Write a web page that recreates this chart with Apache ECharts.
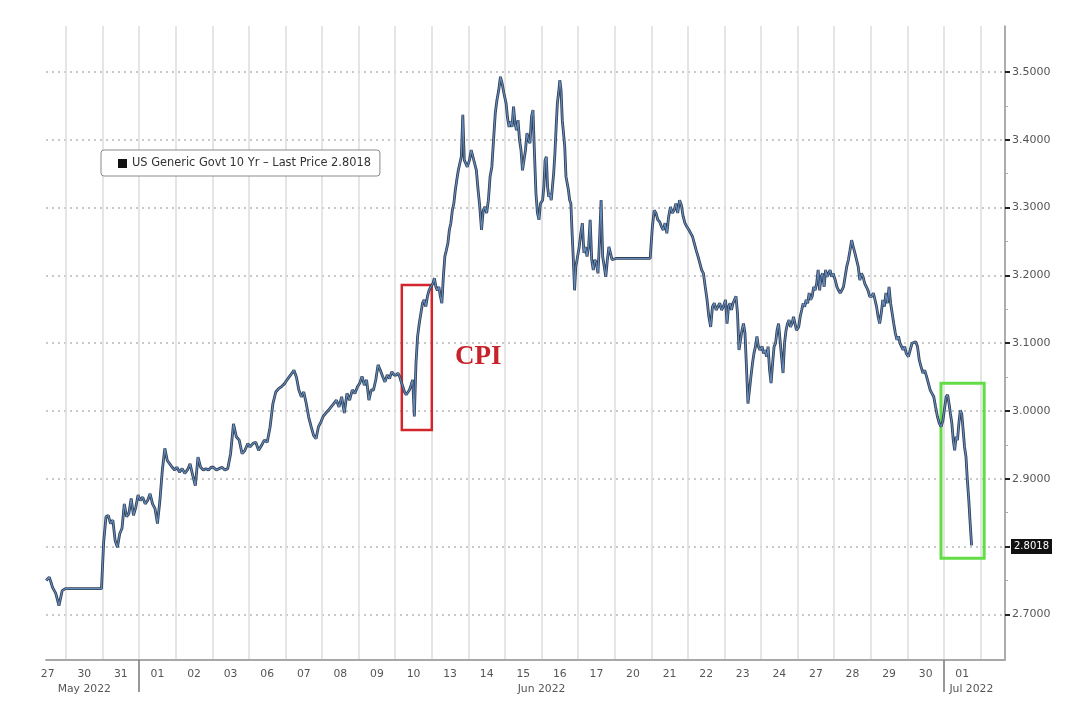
<!DOCTYPE html>
<html><head><meta charset="utf-8">
<script src="https://cdn.jsdelivr.net/npm/echarts@6/dist/echarts.min.js"></script>
<style>html,body{margin:0;padding:0;background:#fff}#c{width:1080px;height:715px}</style>
</head><body><div id="c"></div>
<script>
// ---------------- DATA ----------------
const seriesName = 'US Generic Govt 10 Yr \u2013 Last Price 2.8018';
const lastPrice = 2.8018;
const dayLabels = ['27','30','31','01','02','03','06','07','08','09','10','13','14','15','16','17','20','21','22','23','24','27','28','29','30','01'];
const monthLabels = ['May 2022','Jun 2022','Jul 2022'];

const may27 = [2.750, 2.755, 2.740, 2.731, 2.713, 2.735, 2.738];
const may30 = [2.738, 2.738];
const may31 = [2.807, 2.844, 2.846, 2.834, 2.839, 2.809, 2.799, 2.819, 2.827, 2.863, 2.844, 2.849, 2.871, 2.846, 2.858, 2.876];
const jun01 = [2.868, 2.873, 2.863, 2.868, 2.878, 2.863, 2.856, 2.834, 2.868, 2.913, 2.945, 2.927, 2.922, 2.917, 2.913];
const jun02 = [2.917, 2.910, 2.915, 2.908, 2.913, 2.922, 2.905, 2.890, 2.932, 2.917, 2.913, 2.915, 2.913, 2.917];
const jun03 = [2.917, 2.913, 2.915, 2.917, 2.913, 2.915, 2.937, 2.981, 2.962, 2.957, 2.937, 2.942, 2.952];
const jun06 = [2.947, 2.952, 2.954, 2.942, 2.949, 2.957, 2.954, 2.976, 3.011, 3.028, 3.033, 3.036, 3.040];
const jun07 = [3.045, 3.050, 3.055, 3.060, 3.050, 3.031, 3.021, 3.028, 3.011, 2.991, 2.977, 2.964, 2.959, 2.977, 2.984];
const jun08 = [2.992, 2.997, 3.001, 3.006, 3.011, 3.016, 3.006, 3.021, 2.997, 3.026, 3.016, 3.031, 3.026, 3.036];
const jun09 = [3.041, 3.051, 3.038, 3.046, 3.016, 3.031, 3.031, 3.046, 3.068, 3.060, 3.051, 3.043, 3.053, 3.048, 3.058, 3.053];
const jun10 = [3.053, 3.056, 3.051, 3.043, 3.036, 3.028, 3.024, 3.026, 3.031, 3.038, 3.046, 2.992, 3.070, 3.110, 3.129, 3.144, 3.159, 3.164, 3.154, 3.169, 3.178, 3.183];
const jun13 = [3.188, 3.196, 3.183, 3.178, 3.183, 3.169, 3.159, 3.198, 3.228, 3.237, 3.247, 3.267, 3.277, 3.296, 3.306, 3.326, 3.341, 3.355, 3.365, 3.375, 3.437, 3.370, 3.365, 3.360];
const jun14 = [3.370, 3.385, 3.375, 3.365, 3.355, 3.326, 3.301, 3.267, 3.296, 3.301, 3.292, 3.311, 3.346, 3.360, 3.400, 3.439, 3.459, 3.473, 3.493, 3.483, 3.469];
const jun15 = [3.454, 3.432, 3.419, 3.427, 3.419, 3.449, 3.424, 3.414, 3.429, 3.400, 3.385, 3.355, 3.370, 3.385, 3.410, 3.400, 3.395, 3.434, 3.444, 3.380, 3.321, 3.292, 3.282, 3.306];
const jun16 = [3.311, 3.331, 3.370, 3.375, 3.331, 3.316, 3.321, 3.311, 3.331, 3.351, 3.380, 3.419, 3.454, 3.469, 3.488, 3.473, 3.429, 3.410, 3.390, 3.346, 3.336, 3.326, 3.311, 3.306, 3.262, 3.223, 3.178, 3.213, 3.223];
const jun17 = [3.242, 3.262, 3.277, 3.233, 3.242, 3.228, 3.242, 3.282, 3.223, 3.208, 3.223, 3.218, 3.203, 3.252, 3.311, 3.228, 3.213, 3.198, 3.223, 3.242, 3.233, 3.223, 3.225];
const jun20 = [3.225, 3.225];
const jun21 = [3.272, 3.296, 3.292, 3.282, 3.279, 3.272, 3.267, 3.277, 3.262, 3.287, 3.301, 3.292, 3.296, 3.306, 3.292, 3.311, 3.304, 3.287, 3.277, 3.272];
const jun22 = [3.267, 3.262, 3.257, 3.247, 3.237, 3.228, 3.218, 3.208, 3.203, 3.183, 3.164, 3.139, 3.124, 3.154, 3.159, 3.149, 3.154, 3.159, 3.149, 3.154];
const jun23 = [3.164, 3.129, 3.154, 3.159, 3.149, 3.159, 3.164, 3.169, 3.144, 3.090, 3.090, 3.119, 3.129, 3.115, 3.065, 3.011, 3.031, 3.051, 3.070, 3.085, 3.095, 3.110, 3.095, 3.090];
const jun24 = [3.095, 3.085, 3.090, 3.080, 3.095, 3.060, 3.041, 3.070, 3.095, 3.100, 3.119, 3.129, 3.105, 3.080, 3.056, 3.100, 3.119, 3.129, 3.134, 3.124, 3.129, 3.139, 3.129, 3.119];
const jun27 = [3.124, 3.139, 3.149, 3.159, 3.154, 3.164, 3.159, 3.174, 3.164, 3.169, 3.183, 3.178, 3.188, 3.208, 3.178, 3.198, 3.203, 3.183, 3.208, 3.198, 3.203, 3.208, 3.198, 3.203];
const jun28 = [3.193, 3.183, 3.178, 3.174, 3.178, 3.183, 3.198, 3.213, 3.223, 3.237, 3.252, 3.242, 3.233, 3.223, 3.213, 3.193, 3.203, 3.198, 3.188, 3.183, 3.178, 3.169];
const jun29 = [3.169, 3.174, 3.164, 3.154, 3.139, 3.129, 3.144, 3.164, 3.154, 3.174, 3.159, 3.183, 3.159, 3.144, 3.129, 3.115, 3.105, 3.110, 3.100, 3.095, 3.090, 3.095, 3.085];
const jun30 = [3.080, 3.090, 3.100, 3.102, 3.102, 3.095, 3.075, 3.065, 3.056, 3.060, 3.051, 3.041, 3.031, 3.026, 3.021, 3.006, 2.992, 2.982, 2.977, 2.985];
const jul01 = [3.006, 3.021, 3.024, 3.011, 2.996, 2.982, 2.957, 2.942, 2.962, 2.957, 2.982, 3.001, 2.996, 2.972, 2.947, 2.933, 2.898, 2.869, 2.834, 2.8018];

// annotation boxes, in data units (day index, yield)
const cpiBox = [[10.18, 3.186], [11.0, 2.972]];
const julBox = [[24.92, 3.041], [26.1, 2.783]];

// ---------------- BUILD ----------------
const days = [may27, may30, may31, jun01, jun02, jun03, jun06, jun07, jun08, jun09, jun10, jun13, jun14, jun15, jun16, jun17, jun20, jun21, jun22, jun23, jun24, jun27, jun28, jun29, jun30, jul01];
const dayStart = i => (i === 0 ? 0.44 : 0);
const dayEnd = i => (i === days.length - 1 ? 0.78 : 1);
const points = [];
days.forEach((vals, i) => {
  const s = dayStart(i), e = dayEnd(i), n = vals.length;
  vals.forEach((v, j) => points.push([i + s + (e - s) * (0.03 + 0.94 * j / (n - 1)), v]));
});

// layout (pixels)
const DAY_PX = 36.58, DAY0_PX = 29.42, PLOT_L = 46, PLOT_R = 1005, PLOT_T = 26, PLOT_B = 660, H = 715, W = 1080;
const xMin = (PLOT_L - DAY0_PX) / DAY_PX, xMax = (PLOT_R - DAY0_PX) / DAY_PX;
const Y_PX = 678, Y_REF = 3.5, Y_REF_PX = 72;
const yTop = Y_REF + (Y_REF_PX - PLOT_T) / Y_PX, yBot = Y_REF - (PLOT_B - Y_REF_PX) / Y_PX;
const tickMin = 2.7, tickMax = 3.5;
const tickTopPx = Y_REF_PX + (Y_REF - tickMax) * Y_PX, tickBotPx = Y_REF_PX + (Y_REF - tickMin) * Y_PX;
const monthAnchorsQ = [6, 56, 103];
const monthStarts = [3, 25];

function xLabel(v) {
  const q = Math.round(v * 4);
  let day = '';
  if (q % 4 === 2) day = dayLabels[(q - 2) / 4] || '';
  const mi = monthAnchorsQ.indexOf(q);
  const month = mi >= 0 ? monthLabels[mi] : '';
  if (!month) return day;
  return day + '\n' + month;
}

const FONT = 'DejaVu Sans';
const hiddenAxis = g => ({gridIndex: g, type: 'value', show: false, min: 0, max: 1});
const chart = echarts.init(document.getElementById('c'), null, {renderer: 'canvas'});
chart.setOption({
  animation: false,
  backgroundColor: '#fff',
  grid: [
    {left: PLOT_L, right: W - PLOT_R, top: PLOT_T, bottom: H - PLOT_B},                    // 0 data
    {left: DAY0_PX + DAY_PX, right: W - PLOT_R, top: PLOT_T, bottom: H - PLOT_B},           // 1 day gridlines
    {left: DAY0_PX, right: W - PLOT_R, top: PLOT_T, bottom: H - PLOT_B},                    // 2 day labels
    {left: PLOT_L, right: W - PLOT_R, top: tickTopPx, bottom: H - tickBotPx}                 // 3 y ticks
  ],
  xAxis: [
    {gridIndex: 0, type: 'value', min: xMin, max: xMax, position: 'bottom',
     axisLine: {show: true, onZero: false, lineStyle: {color: '#a8a8a8', width: 2}},
     axisTick: {show: false}, axisLabel: {show: false}, splitLine: {show: false}},
    {gridIndex: 1, type: 'value', min: 1, max: xMax, interval: 1,
     axisLine: {show: false, onZero: false}, axisTick: {show: false}, axisLabel: {show: false},
     splitLine: {show: true, lineStyle: {color: '#dcdcdc', width: 1.5}}},
    {gridIndex: 2, type: 'value', min: 0, max: xMax, interval: 0.25,
     axisLine: {show: false, onZero: false}, axisTick: {show: false}, splitLine: {show: false},
     axisLabel: {show: true, formatter: xLabel, color: '#555', fontFamily: FONT, fontSize: 10.8, margin: 7, lineHeight: 15, showMinLabel: true, showMaxLabel: true}},
    hiddenAxis(3),
    {gridIndex: 1, type: 'value', min: 1, max: xMax, interval: 1, position: 'bottom',
     axisLine: {show: false, onZero: false},
     axisTick: {show: true, customValues: monthStarts, length: 32, lineStyle: {color: '#777', width: 1.5}},
     axisLabel: {show: false}, splitLine: {show: false}}
  ],
  yAxis: [
    {gridIndex: 0, type: 'value', min: yBot, max: yTop, position: 'right',
     axisLine: {show: true, onZero: false, lineStyle: {color: '#999', width: 1.5}},
     axisTick: {show: false}, axisLabel: {show: false}, splitLine: {show: false}},
    hiddenAxis(1),
    hiddenAxis(2),
    {gridIndex: 3, type: 'value', min: tickMin, max: tickMax, interval: 0.1, position: 'right',
     axisLine: {show: false, onZero: false},
     axisTick: {show: true, length: 5, lineStyle: {color: '#222', width: 2}},
     minorTick: {show: true, splitNumber: 2, length: 3, lineStyle: {color: '#aaa', width: 1}},
     axisLabel: {formatter: v => v.toFixed(4), color: '#555', fontFamily: FONT, fontSize: 11, margin: 7},
     splitLine: {show: true, lineStyle: {color: '#b8b8b8', width: 1.5, type: [2, 4]}}}
  ],
  legend: {
    data: [seriesName], left: 101, top: 150,
    padding: [8, 9, 7, 17], borderColor: '#8a8a8a', borderWidth: 1, borderRadius: 3,
    backgroundColor: '#fff', itemWidth: 9, itemHeight: 9, icon: 'rect',
    itemStyle: {color: '#111'},
    textStyle: {fontFamily: FONT, fontSize: 11.4, color: '#333'}
  },
  series: [
    {name: seriesName, type: 'line', xAxisIndex: 0, yAxisIndex: 0, data: points,
     showSymbol: false, symbol: 'none', z: 3,
     lineStyle: {color: '#303f54', width: 2.8}, itemStyle: {color: '#303f54'},
     markLine: {silent: true, symbol: ['none', 'none'],
       lineStyle: {color: 'rgba(0,0,0,0)', width: 0, type: 'solid'},
       label: {show: true, position: 'end', formatter: () => lastPrice.toFixed(4), color: '#fff',
         backgroundColor: '#111', padding: [3, 3, 2, 3], fontFamily: FONT, fontSize: 10, distance: 6, opacity: 1},
       data: [{yAxis: lastPrice}]},
     markArea: {silent: true,
       data: [
         [{xAxis: cpiBox[0][0], yAxis: cpiBox[0][1],
           itemStyle: {color: 'rgba(0,0,0,0)', borderColor: '#d3262c', borderWidth: 2.5, borderRadius: 3},
           label: {show: true, position: 'right', distance: 22, formatter: 'CPI', color: '#c8232a',
             fontFamily: 'Liberation Serif', fontWeight: 'bold', fontSize: 27}},
          {xAxis: cpiBox[1][0], yAxis: cpiBox[1][1]}],
         [{xAxis: julBox[0][0], yAxis: julBox[0][1],
           itemStyle: {color: 'rgba(0,0,0,0)', borderColor: '#62dd45', borderWidth: 3, borderRadius: 5},
           label: {show: false}},
          {xAxis: julBox[1][0], yAxis: julBox[1][1]}]
       ]}},
    {name: 'overlay', type: 'line', xAxisIndex: 0, yAxisIndex: 0, data: points,
     showSymbol: false, symbol: 'none', z: 4,
     lineStyle: {color: '#6f9ad0', width: 1.1, opacity: 0.85}}
  ]
});
</script></body></html>
